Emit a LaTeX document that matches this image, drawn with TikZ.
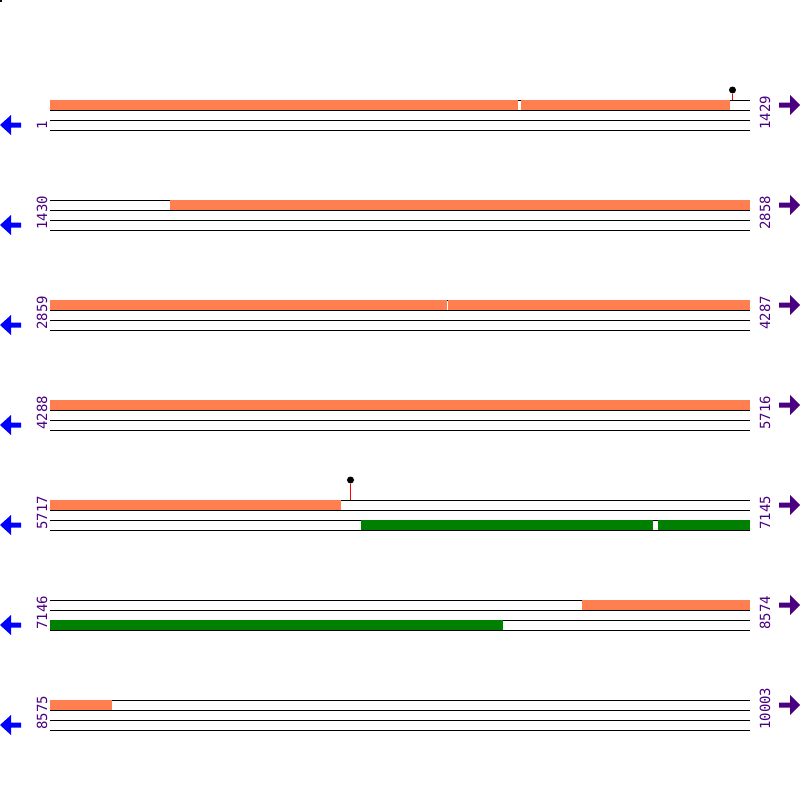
\documentclass[tikz,border=0pt]{standalone}
\usepackage{fontspec}
\newfontfamily\labelfont{DejaVu Sans Mono}
\definecolor{coral}{HTML}{FF7F50}
\definecolor{gbar}{HTML}{008000}
\definecolor{indig}{HTML}{4B0082}
\definecolor{bluearr}{HTML}{0000FF}
\begin{document}
\begin{tikzpicture}[x=1pt,y=-1pt,
  strand/.style={black,line width=1pt},
  obar/.style={fill=coral,draw=none},
  gbarst/.style={fill=gbar,draw=none},
  poslabel/.style={rotate=90,anchor=base west,inner sep=0pt,text=indig,font=\labelfont\fontsize{14}{14}\selectfont},
  larrow/.style={fill=bluearr,draw=none},
  rarrow/.style={fill=indig,draw=none},
  stem/.style={red,line width=1pt},
  pin/.style={circle,fill=black,inner sep=0pt,minimum size=7pt}]
\useasboundingbox (0,0) rectangle (800,800);
\fill[black] (0,0) rectangle (2,2);
\foreach \r/\a/\b [count=\i from 0] in {1/1429,1430/2858,2859/4287,4288/5716,5717/7145,7146/8574,8575/10003}{
  \pgfmathsetmacro{\yy}{100+100*\i}
  \foreach \k in {0,10,20,30}{
    \coordinate (sl\i\k) at (50,\yy+\k);
    \coordinate (sr\i\k) at (750,\yy+\k);
    \draw[strand] (sl\i\k) -- (sr\i\k);
  }
  \node[poslabel] (ll\i) at (47,\yy+30) {\r};
  \node[poslabel] (rl\i) at (770,\yy+30) {\b};
  \fill[larrow] (0,\yy+25) -- (11,\yy+15) -- (11,\yy+22.5) -- (21,\yy+22.5) -- (21,\yy+27.5) -- (11,\yy+27.5) -- (11,\yy+35) -- cycle;
  \fill[rarrow] (800,\yy+5) -- (790,\yy-5) -- (790,\yy+2.5) -- (779,\yy+2.5) -- (779,\yy+7.5) -- (790,\yy+7.5) -- (790,\yy+15) -- cycle;
}
% row 1
\fill[obar] (50,100) rectangle (518,110);
\fill[obar] (521,100) rectangle (730,110);
\node[pin] (p1) at (732.5,90) {};
\coordinate (q1) at (732.5,100);
\draw[stem] (p1.south) -- (q1);
% row 2
\fill[obar] (170,200) rectangle (750,210);
% row 3
\fill[obar] (50,300) rectangle (446.5,310);
\fill[obar] (448,300) rectangle (750,310);
% row 4
\fill[obar] (50,400) rectangle (750,410);
% row 5
\fill[obar] (50,500) rectangle (341,510);
\node[pin] (p5) at (350.5,480) {};
\coordinate (q5) at (350.5,500);
\draw[stem] (p5.south) -- (q5);
\fill[gbarst] (361,520) rectangle (653.3,530);
\fill[gbarst] (657.7,520) rectangle (750,530);
% row 6
\fill[obar] (582,600) rectangle (750,610);
\fill[gbarst] (50,620) rectangle (503,630);
% row 7
\fill[obar] (50,700) rectangle (112,710);
\end{tikzpicture}
\end{document}
